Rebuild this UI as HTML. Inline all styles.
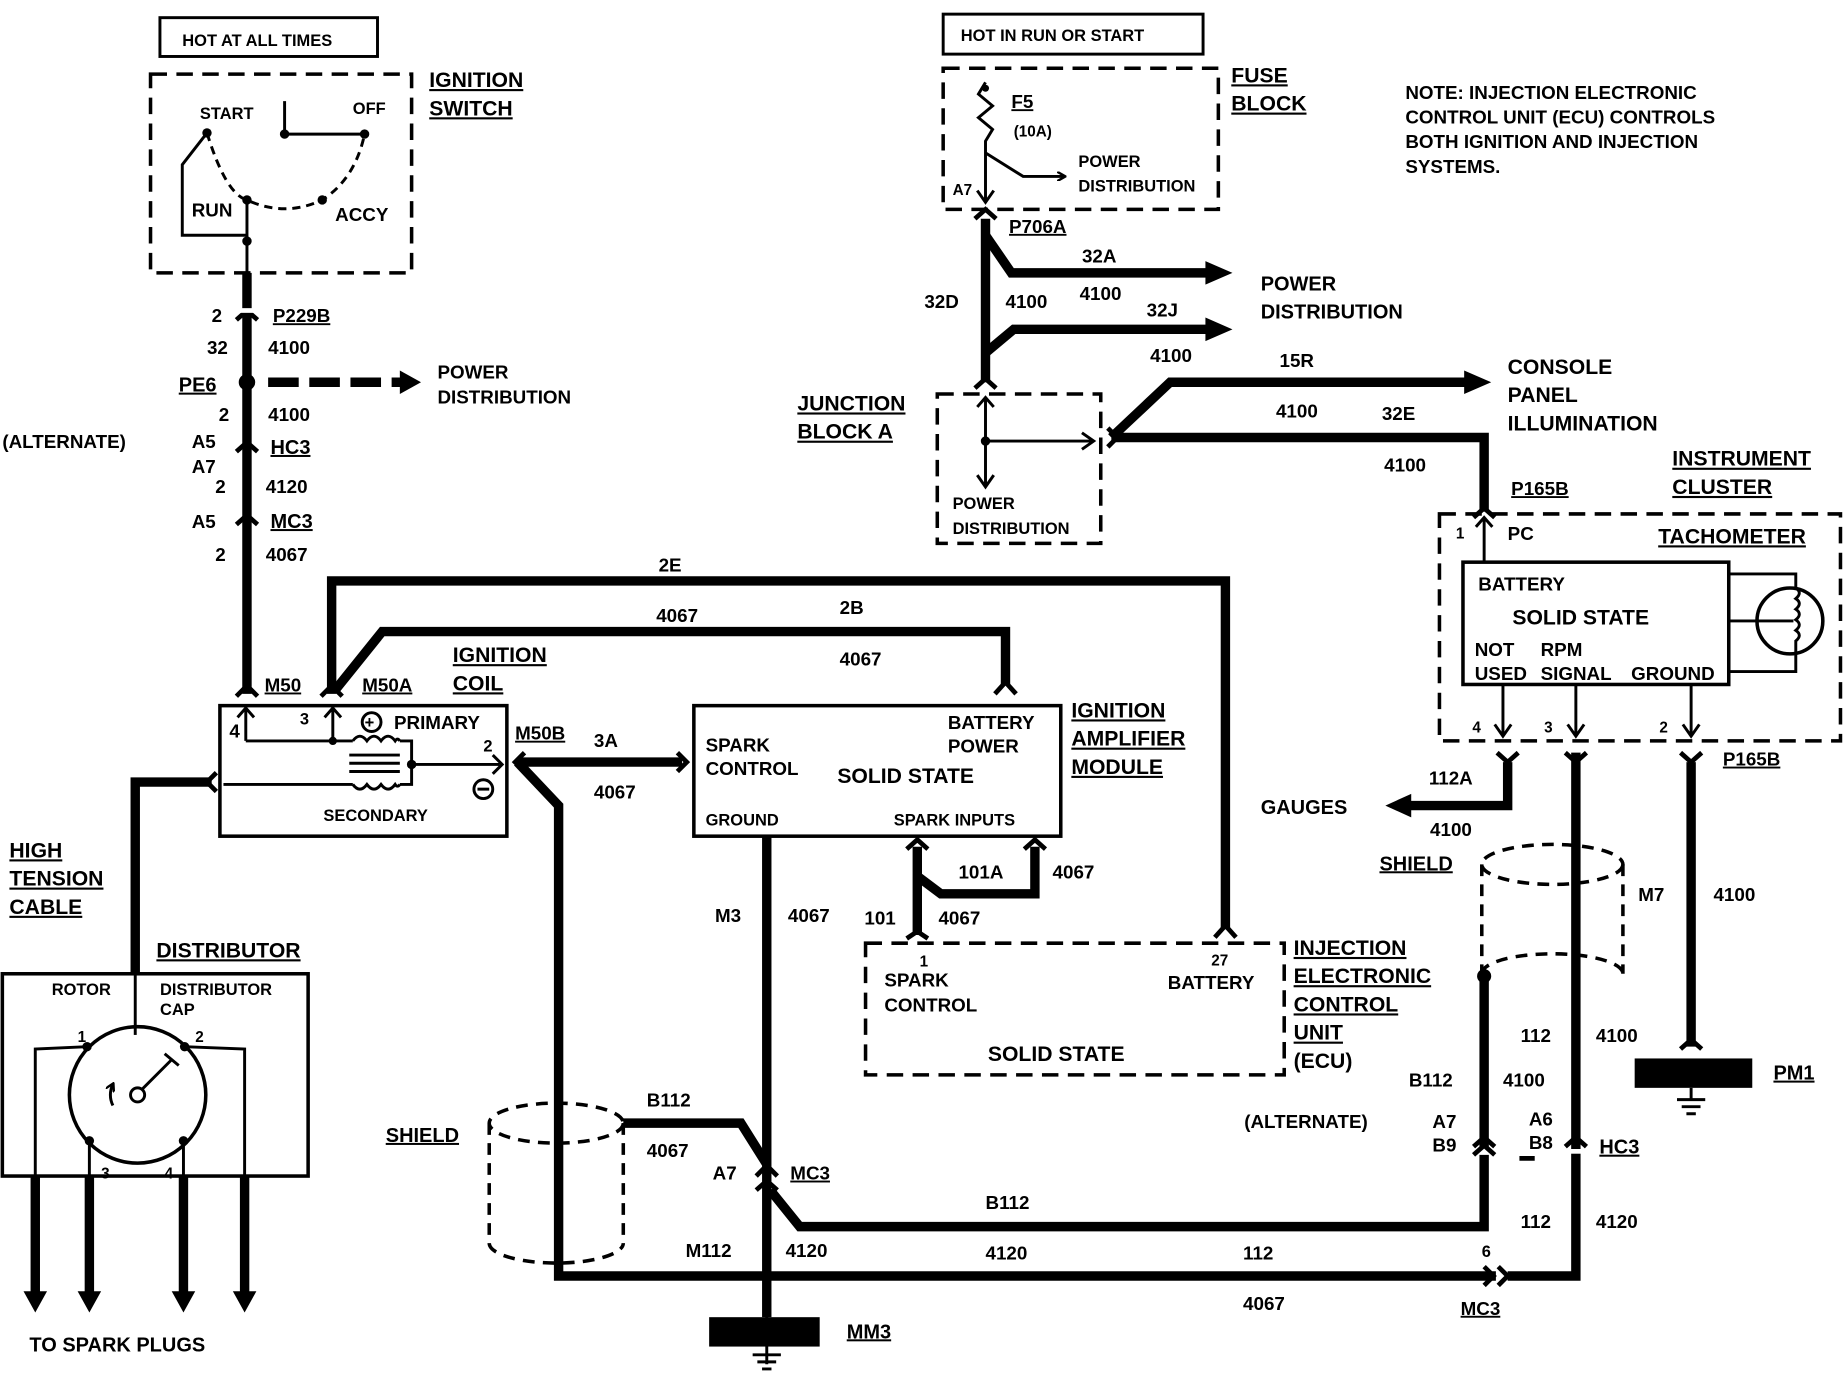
<!DOCTYPE html>
<html><head><meta charset="utf-8"><style>
html,body{margin:0;padding:0;background:#fff}
svg{display:block}
text{font-family:"Liberation Sans",Arial,sans-serif;font-weight:bold;font-size:16px;fill:#000}
.u{text-decoration:underline}
.t{stroke:#000;stroke-width:8;fill:none}
.n{stroke:#000;stroke-width:2.5;fill:none}
.d{stroke:#000;stroke-width:3;fill:none;stroke-dasharray:14 8}
.dt{stroke:#000;stroke-width:3;fill:none;stroke-dasharray:10 7}
.c{stroke:#000;stroke-width:4;fill:none}
</style></head><body>
<svg width="1844" height="1376" viewBox="0 0 1568 1170" xmlns="http://www.w3.org/2000/svg">
<defs>
<marker id="as" markerWidth="8" markerHeight="8" refX="6" refY="4" orient="auto" markerUnits="userSpaceOnUse"><path d="M0,0 L7,4 L0,8" fill="none" stroke="#000" stroke-width="2"/></marker>
</defs>

<!-- LEFT TOP -->
<rect x="136" y="15" width="185" height="33" class="n"/>
<text x="155" y="39" style="font-size:14px">HOT AT ALL TIMES</text>
<rect x="128" y="63" width="222" height="169" class="d"/>
<text x="365" y="74" class="u" style="font-size:18px">IGNITION</text>
<text x="365" y="98" class="u" style="font-size:18px">SWITCH</text>
<text x="170" y="101" style="font-size:14px">START</text>
<text x="300" y="97" style="font-size:14px">OFF</text>
<text x="163" y="184">RUN</text>
<text x="285" y="188">ACCY</text>
<path d="M242,114 V86 M242,114 H310" class="n"/>
<path d="M176,113 Q192,165 210,170 Q242,185 274,170 Q302,152 310,114" class="n" style="stroke-dasharray:7 5"/>
<path d="M176,113 L155,140 V200 H210 M210,170 V232" class="n"/>
<circle cx="176" cy="113" r="4"/><circle cx="242" cy="114" r="4"/><circle cx="310" cy="114" r="4"/><circle cx="210" cy="170" r="4"/><circle cx="274" cy="170" r="4"/><circle cx="210" cy="205" r="4"/>

<path d="M210,232 V590" class="t"/>
<g class="c">
<path d="M201,272 L210,264 L219,272"/><path d="M201,384 L210,376 L219,384"/><path d="M201,446 L210,438 L219,446"/>
</g>
<rect x="200" y="262" width="20" height="4" fill="#fff"/>
<text x="180" y="274">2</text><text x="232" y="274" class="u">P229B</text>
<text x="176" y="301">32</text><text x="228" y="301">4100</text>
<text x="152" y="333" class="u" style="font-size:17px">PE6</text>
<circle cx="210" cy="325" r="7"/>
<path d="M228,325 H345" class="t" style="stroke-dasharray:26 9"/>
<path d="M340,315 L358,325 L340,335z"/>
<text x="372" y="322">POWER</text><text x="372" y="343">DISTRIBUTION</text>
<text x="186" y="358">2</text><text x="228" y="358">4100</text>
<text x="2" y="381">(ALTERNATE)</text><text x="163" y="381">A5</text><text x="230" y="386" class="u" style="font-size:17px">HC3</text>
<text x="163" y="402">A7</text><text x="183" y="419">2</text><text x="226" y="419">4120</text>
<text x="163" y="449">A5</text><text x="230" y="449" class="u" style="font-size:17px">MC3</text>
<text x="183" y="477">2</text><text x="226" y="477">4067</text>

<!-- 2E / 2B -->
<path d="M282,590 V494 H1042 V790" class="t"/>
<text x="560" y="486">2E</text>
<path d="M284,588 L325,537 H855 V582" class="t"/>
<text x="558" y="529">4067</text><text x="714" y="522">2B</text><text x="714" y="566">4067</text>
<path d="M846,590 L855,580 L864,590" class="c"/>
<path d="M1033,797 L1042,787 L1051,797" class="c"/>
<path d="M201,592 L210,583 L219,592" class="c"/>
<path d="M273,592 L282,583 L291,592" class="c"/>

<text x="225" y="588" class="u">M50</text><text x="308" y="588" class="u">M50A</text>
<text x="385" y="563" class="u" style="font-size:18px">IGNITION</text><text x="385" y="587" class="u" style="font-size:18px">COIL</text>

<!-- coil -->
<rect x="187" y="600" width="244" height="111" class="c" style="stroke-width:3"/>
<text x="195" y="627">4</text><text x="255" y="616" style="font-size:14px">3</text>
<circle cx="316" cy="614" r="8" class="n"/><text x="310" y="619" style="font-size:14px">+</text>
<text x="335" y="620">PRIMARY</text>
<text x="411" y="639" style="font-size:14px">2</text>
<circle cx="411" cy="671" r="8" class="n"/><path d="M406,671 H416" class="n"/>
<text x="275" y="698" style="font-size:14px">SECONDARY</text>
<path d="M209,630 V602 M202,610 L209,602 L216,610 M283,630 V602 M276,610 L283,602 L290,610 M209,630 H300 M340,630 H350 V667 H340 M300,667 H190 M350,650 H425 M419,642 L427,650 L419,658" class="n"/>
<path d="M300,630 q6,-8 12,0 q6,-8 12,0 q6,-8 12,0 q2,-3 4,0 M300,667 q6,8 12,0 q6,8 12,0 q6,8 12,0 q2,3 4,0 M297,642 H340 M297,649 H340 M297,656 H340" class="n"/>
<circle cx="283" cy="630" r="3.5"/><circle cx="350" cy="650" r="4"/>

<text x="438" y="629" class="u">M50B</text><text x="505" y="635">3A</text><text x="505" y="679">4067</text>
<path d="M440,648 H580 M440,648 L475,685 V1085 H1272" class="t"/>
<path d="M446,640 L438,648 L446,656 M576,640 L584,648 L576,656" class="c"/>

<!-- amplifier -->
<rect x="590" y="600" width="312" height="111" class="c" style="stroke-width:3"/>
<text x="600" y="639">SPARK</text><text x="600" y="659">CONTROL</text>
<text x="806" y="620">BATTERY</text><text x="806" y="640">POWER</text>
<text x="712" y="666" style="font-size:18px">SOLID STATE</text>
<text x="600" y="702" style="font-size:14px">GROUND</text><text x="760" y="702" style="font-size:14px">SPARK  INPUTS</text>
<text x="911" y="610" class="u" style="font-size:18px">IGNITION</text><text x="911" y="634" class="u" style="font-size:18px">AMPLIFIER</text><text x="911" y="658" class="u" style="font-size:18px">MODULE</text>
<path d="M652,711 V1120" class="t"/>
<text x="608" y="784">M3</text><text x="670" y="784">4067</text>
<path d="M780,720 V745 L800,760 H880 V720 M780,745 V795" class="t"/>
<path d="M771,722 L780,714 L789,722 M871,722 L880,714 L889,722 M771,798 L780,792 L789,798" class="c"/>
<text x="815" y="747">101A</text><text x="895" y="747">4067</text><text x="735" y="786">101</text><text x="798" y="786">4067</text>

<!-- ECU -->
<rect x="736" y="802" width="356" height="112" class="d"/>
<text x="782" y="822" style="font-size:13px">1</text><text x="752" y="839">SPARK</text><text x="752" y="860">CONTROL</text>
<text x="1030" y="821" style="font-size:13px">27</text><text x="993" y="841">BATTERY</text>
<text x="840" y="902" style="font-size:18px">SOLID STATE</text>
<text x="1100" y="812" class="u" style="font-size:18px">INJECTION</text><text x="1100" y="836" class="u" style="font-size:18px">ELECTRONIC</text><text x="1100" y="860" class="u" style="font-size:18px">CONTROL</text><text x="1100" y="884" class="u" style="font-size:18px">UNIT</text><text x="1100" y="908" style="font-size:18px">(ECU)</text>

<!-- distributor -->
<text x="8" y="729" class="u" style="font-size:18px">HIGH</text><text x="8" y="753" class="u" style="font-size:18px">TENSION</text><text x="8" y="777" class="u" style="font-size:18px">CABLE</text>
<path d="M180,665 H115 V828" class="t"/>
<path d="M184,657 L176,665 L184,673" class="c"/>
<text x="133" y="814" class="u" style="font-size:18px">DISTRIBUTOR</text>
<rect x="2" y="828" width="260" height="172" class="c" style="stroke-width:3"/>
<path d="M115,828 V880" class="n"/>
<text x="44" y="846" style="font-size:14px">ROTOR</text><text x="136" y="846" style="font-size:14px">DISTRIBUTOR</text><text x="136" y="863" style="font-size:14px">CAP</text>
<circle cx="117" cy="931" r="58" class="c" style="stroke-width:3"/>
<circle cx="117" cy="931" r="6" class="n" fill="#fff"/>
<path d="M121,926 L146,901 M140,896 L152,906" class="n"/>
<path d="M96,940 a20,20 0 0,1 0,-18" class="n" marker-end="url(#as)"/>
<circle cx="74" cy="890" r="4"/><circle cx="157" cy="890" r="4"/><circle cx="76" cy="970" r="4"/><circle cx="156" cy="970" r="4"/>
<text x="66" y="886" style="font-size:13px">1</text><text x="166" y="886" style="font-size:13px">2</text><text x="86" y="1002" style="font-size:13px">3</text><text x="140" y="1002" style="font-size:13px">4</text>
<path d="M74,890 L30,892 V1000 M157,890 L208,892 V1000 M76,970 V1000 M156,970 V1000" class="n"/>
<path d="M30,1000 V1100 M76,1000 V1100 M156,1000 V1100 M208,1000 V1100" class="t"/>
<path d="M20,1098 L30,1116 L40,1098z M66,1098 L76,1116 L86,1098z M146,1098 L156,1116 L166,1098z M198,1098 L208,1116 L218,1098z"/>
<text x="25" y="1149" style="font-size:17px">TO SPARK PLUGS</text>

<!-- left shield -->
<ellipse cx="473" cy="955" rx="57" ry="17" class="dt"/>
<path d="M416,955 V1057 M530,955 V1057 M416,1057 a57,17 0 0,0 114,0" class="dt"/>
<text x="328" y="971" class="u" style="font-size:17px">SHIELD</text>
<path d="M530,955 H630 L652,990" class="t"/>
<path d="M643,1000 L652,991 L661,1000 M643,1012 L652,1004 L661,1012" class="c"/>
<text x="550" y="941">B112</text><text x="550" y="984">4067</text><text x="606" y="1003">A7</text><text x="672" y="1003" class="u">MC3</text>
<path d="M655,1012 L680,1043 H1262 V982" class="t"/>
<path d="M1253,982 L1262,974 L1271,982" class="c"/>
<text x="838" y="1028">B112</text>
<text x="583" y="1069">M112</text><text x="668" y="1069">4120</text><text x="838" y="1071">4120</text><text x="1057" y="1071">112</text>
<text x="1057" y="1114">4067</text><text x="1260" y="1069" style="font-size:14px">6</text><text x="1242" y="1118" class="u">MC3</text>
<path d="M1262,1077 L1270,1085 L1262,1093 M1274,1077 L1282,1085 L1274,1093" class="c"/>
<path d="M1282,1085 H1340 V640" class="t"/>
<!-- MM3 -->
<rect x="603" y="1120" width="94" height="25"/>
<path d="M652,1108 V1160 M640,1152 H664 M644,1158 H660 M648,1164 H656" class="n"/>
<text x="720" y="1138" class="u" style="font-size:17px">MM3</text>

<!-- RIGHT TOP -->
<rect x="802" y="12" width="221" height="34" class="n"/>
<text x="817" y="35" style="font-size:14px">HOT IN RUN OR START</text>
<rect x="802" y="58" width="234" height="120" class="d"/>
<text x="1047" y="70" class="u" style="font-size:18px">FUSE</text><text x="1047" y="94" class="u" style="font-size:18px">BLOCK</text>
<text x="860" y="92" class="u">F5</text><text x="862" y="116" style="font-size:13px">(10A)</text>
<text x="917" y="142" style="font-size:14px">POWER</text><text x="917" y="163" style="font-size:14px">DISTRIBUTION</text>
<text x="810" y="166" style="font-size:13px">A7</text>
<path d="M838,70 l-6,10 l12,10 l-12,10 l12,10 l-6,10 V170 M831,162 L838,172 L845,162 M838,130 L870,150 H905" class="n" marker-end="url(#as)"/>
<circle cx="838" cy="75" r="3"/>
<text x="858" y="198" class="u">P706A</text>
<path d="M838,186 V325" class="t"/>
<path d="M829,186 L838,178 L847,186 M829,330 L838,322 L847,330" class="c"/>
<path d="M838,200 L860,232 H1028 M838,300 L862,280 H1028" class="t"/>
<path d="M1025,222 L1048,232 L1025,242z M1025,270 L1048,280 L1025,290z"/>
<text x="786" y="262">32D</text><text x="920" y="223">32A</text><text x="855" y="262">4100</text><text x="918" y="255">4100</text>
<text x="975" y="269">32J</text><text x="978" y="308">4100</text>
<text x="1072" y="247" style="font-size:17px">POWER</text><text x="1072" y="271" style="font-size:17px">DISTRIBUTION</text>
<text x="678" y="349" class="u" style="font-size:18px">JUNCTION</text><text x="678" y="373" class="u" style="font-size:18px">BLOCK A</text>
<rect x="797" y="335" width="139" height="127" class="d"/>
<path d="M831,346 L838,338 L845,346 M838,338 V412 M831,404 L838,414 L845,404 M838,375 H928 M920,368 L930,375 L920,382" class="n"/>
<circle cx="838" cy="375" r="4"/>
<text x="810" y="433" style="font-size:14px">POWER</text><text x="810" y="454" style="font-size:14px">DISTRIBUTION</text>
<path d="M945,372 L995,325 H1248 M945,372 H1262 V435" class="t"/>
<path d="M1245,315 L1268,325 L1245,335z"/>
<path d="M942,364 L950,372 L942,380" class="c"/>
<text x="1088" y="312">15R</text><text x="1085" y="355">4100</text><text x="1175" y="357">32E</text><text x="1177" y="401">4100</text>
<text x="1282" y="318" style="font-size:18px">CONSOLE</text><text x="1282" y="342" style="font-size:18px">PANEL</text><text x="1282" y="366" style="font-size:18px">ILLUMINATION</text>
<text x="1285" y="421" class="u">P165B</text>
<path d="M1253,440 L1262,432 L1271,440" class="c"/>
<text x="1195" y="84">NOTE: INJECTION ELECTRONIC</text><text x="1195" y="105">CONTROL UNIT (ECU) CONTROLS</text><text x="1195" y="126">BOTH IGNITION AND INJECTION</text><text x="1195" y="147">SYSTEMS.</text>

<!-- cluster -->
<text x="1422" y="396" class="u" style="font-size:18px">INSTRUMENT</text><text x="1422" y="420" class="u" style="font-size:18px">CLUSTER</text>
<rect x="1224" y="437" width="341" height="193" class="d"/>
<text x="1410" y="462" class="u" style="font-size:18px">TACHOMETER</text>
<text x="1238" y="458" style="font-size:13px">1</text><text x="1282" y="459">PC</text>
<path d="M1262,478 V440 M1255,448 L1262,440 L1269,448" class="n"/>
<rect x="1244" y="478" width="226" height="104" class="c" style="stroke-width:3"/>
<text x="1257" y="502">BATTERY</text><text x="1286" y="531" style="font-size:18px">SOLID STATE</text>
<text x="1254" y="558">NOT</text><text x="1310" y="558">RPM</text>
<text x="1254" y="578">USED</text><text x="1310" y="578">SIGNAL</text><text x="1387" y="578">GROUND</text>
<circle cx="1522" cy="528" r="28" class="c" style="stroke-width:3"/>
<path d="M1470,488 H1527 V500 q6,4 0,9 q6,4 0,9 q6,4 0,9 q6,4 0,9 q6,4 0,9 V571 H1470 M1470,528 H1525" class="n"/>
<path d="M1278,582 V626 M1271,616 L1278,626 L1285,616 M1340,582 V626 M1333,616 L1340,626 L1347,616 M1438,582 V626 M1431,616 L1438,626 L1445,616" class="n"/>
<text x="1252" y="623" style="font-size:13px">4</text><text x="1313" y="623" style="font-size:13px">3</text><text x="1411" y="623" style="font-size:13px">2</text>
<path d="M1273,640 L1282,648 L1291,640 M1331,640 L1340,648 L1349,640 M1429,640 L1438,648 L1447,640" class="c"/>
<text x="1465" y="651" class="u">P165B</text>
<path d="M1282,648 V685 H1198" class="t"/>
<path d="M1200,675 L1178,685 L1200,695z"/>
<text x="1215" y="667">112A</text><text x="1072" y="692" style="font-size:17px">GAUGES</text><text x="1216" y="711">4100</text>
<ellipse cx="1320" cy="735" rx="60" ry="17" class="dt"/>
<path d="M1260,735 V828 M1380,735 V828 M1260,828 a60,17 0 0,1 120,0" class="dt"/>
<text x="1173" y="740" class="u" style="font-size:17px">SHIELD</text>
<text x="1393" y="766">M7</text><text x="1457" y="766">4100</text>
<path d="M1262,830 V975" class="t"/><circle cx="1262" cy="830" r="6"/>
<text x="1293" y="886">112</text><text x="1357" y="886">4100</text>
<text x="1198" y="924">B112</text><text x="1278" y="924">4100</text>
<text x="1058" y="959">(ALTERNATE)</text><text x="1218" y="959">A7</text><text x="1218" y="979">B9</text>
<text x="1300" y="957">A6</text><text x="1300" y="977">B8</text><text x="1360" y="981" class="u" style="font-size:17px">HC3</text>
<path d="M1253,975 L1262,967 L1271,975 M1331,975 L1340,967 L1349,975 M1292,985 H1305" class="c"/>
<rect x="1330" y="977" width="20" height="4" fill="#fff"/>
<text x="1293" y="1044">112</text><text x="1357" y="1044">4120</text>
<path d="M1438,648 V890" class="t"/>
<path d="M1429,892 L1438,884 L1447,892" class="c"/>
<rect x="1390" y="900" width="100" height="25"/>
<path d="M1438,925 V935 M1426,935 H1450 M1430,941 H1446 M1434,947 H1442" class="n"/>
<text x="1508" y="918" class="u" style="font-size:17px">PM1</text>
</svg>
</body></html>
